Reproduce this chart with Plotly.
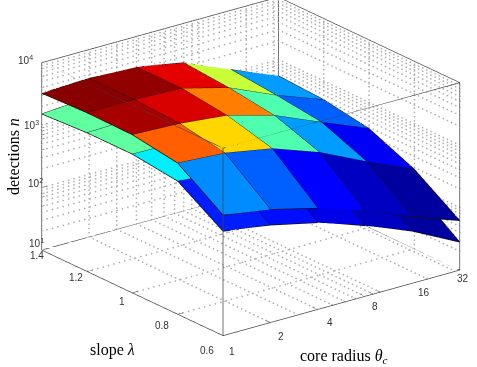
"""Two-sheet faceted surface of detections against core radius and slope."""

import numpy as np
import plotly.graph_objects as go

theta_ticks = [1, 2, 4, 8, 16, 32]
slope_rows = [1.4, 1.2, 1.0, 0.8, 0.6]
z_ticks = [10, 100, 1000, 10000]

# detections per vertex, one row per slope, one column per core radius
upper_n = [
    [3240, 3470, 3240, 2340, 1120, 550],
    [3470, 3470, 3240, 2040, 955, 500],
    [3390, 3160, 2630, 1620, 776, 380],
    [2630, 2340, 1700, 912, 398, 186],
    [851, 646, 417, 234, 115, 62],
]
lower_n = [
    [1510, 1700, 1600, 1150, 560, 275],
    [1660, 1750, 1620, 1000, 480, 250],
    [1660, 1600, 1300, 800, 390, 190],
    [1350, 1150, 850, 450, 200, 93],
    [468, 363, 245, 135, 68, 28],
]

# colour value per facet (jet, 0..1)
upper_c = [
    [0.99, 0.98, 0.898, 0.57, 0.28],
    [0.96, 0.91, 0.75, 0.453, 0.22],
    [0.78, 0.663, 0.453, 0.28, 0.115],
    [0.265, 0.22, 0.125, 0.06, 0.02],
]
lower_c = [
    [0.47, 0.47, 0.4, 0.3, 0.2],
    [0.47, 0.45, 0.4, 0.3, 0.2],
    [0.36, 0.35, 0.3, 0.2, 0.1],
    [0.155, 0.14, 0.10, 0.06, 0.02],
]

jet = [
    [0.0, "#00008f"], [0.125, "#0000ff"], [0.375, "#00ffff"],
    [0.625, "#ffff00"], [0.875, "#ff0000"], [1.0, "#800000"],
]

x_rng = (1, 32)
y_rng = (0.6, 1.4)
z_rng = (10, 10000)


def sheet(values, cells):
    xs, ys, zs, ii, jj, kk, cc = [], [], [], [], [], [], []
    ncol = len(theta_ticks)
    for r, row in enumerate(values):
        for c, val in enumerate(row):
            xs.append(theta_ticks[c])
            ys.append(slope_rows[r])
            zs.append(val)
    for r, row in enumerate(cells):
        for c, val in enumerate(row):
            a = r * ncol + c
            b, d, e = a + 1, a + ncol, a + ncol + 1
            ii += [a, a]
            jj += [b, e]
            kk += [e, d]
            cc += [val, val]
    return go.Mesh3d(
        x=xs, y=ys, z=zs, i=ii, j=jj, k=kk,
        intensity=cc, intensitymode="cell",
        colorscale=jet, cmin=0, cmax=1, showscale=False,
        flatshading=True,
        lighting=dict(ambient=1, diffuse=0, specular=0, fresnel=0),
        hoverinfo="skip",
    )


def edges(values):
    xs, ys, zs = [], [], []
    for r, row in enumerate(values):
        xs += theta_ticks + [None]
        ys += [slope_rows[r]] * len(row) + [None]
        zs += list(row) + [None]
    for c in range(len(theta_ticks)):
        xs += [theta_ticks[c]] * len(values) + [None]
        ys += slope_rows + [None]
        zs += [row[c] for row in values] + [None]
    return go.Scatter3d(
        x=xs, y=ys, z=zs, mode="lines",
        line=dict(color="#101010", width=1.5),
        showlegend=False, hoverinfo="skip",
    )


def segs(points, color, width):
    xs, ys, zs = [], [], []
    for a, b in points:
        xs += [a[0], b[0], None]
        ys += [a[1], b[1], None]
        zs += [a[2], b[2], None]
    return go.Scatter3d(
        x=xs, y=ys, z=zs, mode="lines",
        line=dict(color=color, width=width),
        showlegend=False, hoverinfo="skip",
    )


def dots(points, color, n=45):
    # gl dash patterns come out too long here, so the dotted grid is plain markers
    xs, ys, zs = [], [], []
    for a, b in points:
        f = np.linspace(0, 1, n)
        xs += list(np.exp(np.log(a[0]) + f * (np.log(b[0]) - np.log(a[0]))))
        ys += list(a[1] + f * (b[1] - a[1]))
        zs += list(np.exp(np.log(a[2]) + f * (np.log(b[2]) - np.log(a[2]))))
    return go.Scatter3d(
        x=xs, y=ys, z=zs, mode="markers",
        marker=dict(color=color, size=1, line=dict(width=0)),
        showlegend=False, hoverinfo="skip",
    )


x0, x1 = x_rng
y0, y1 = y_rng
z0, z1 = z_rng

theta_grid = [2, 3, 4, 5, 6, 7, 8, 9, 10, 20, 30]
z_grid = [m * 10 ** e for e in (1, 2, 3) for m in range(1, 10)][1:]
slope_grid = [0.8, 1.0, 1.2]

grid = []
for t in theta_grid:
    grid.append(((t, y0, z0), (t, y1, z0)))
    grid.append(((t, y1, z0), (t, y1, z1)))
for s in slope_grid:
    grid.append(((x0, s, z0), (x1, s, z0)))
    grid.append(((x1, s, z0), (x1, s, z1)))
for z in z_grid:
    grid.append(((x0, y1, z), (x1, y1, z)))
    grid.append(((x1, y0, z), (x1, y1, z)))

box = []
for z in (z0, z1):
    box += [
        ((x0, y0, z), (x1, y0, z)), ((x1, y0, z), (x1, y1, z)),
        ((x1, y1, z), (x0, y1, z)), ((x0, y1, z), (x0, y0, z)),
    ]
for x, y in ((x0, y0), (x1, y0), (x1, y1), (x0, y1)):
    box.append(((x, y, z0), (x, y, z1)))

# tick stubs point into the box, anything outside the ranges gets clipped
stubs = []
for t in theta_grid:
    d = 0.024 if t in theta_ticks else 0.014
    stubs.append(((t, y0, z0), (t, y0 + d, z0)))
for s in slope_grid:
    stubs.append(((x0, s, z0), (x0 * 1.08, s, z0)))
for z in z_grid:
    f = 1.08 if z in z_ticks else 1.04
    stubs.append(((x0, y1, z), (x0 * f, y1, z)))

fig = go.Figure()
fig.add_trace(sheet(upper_n, upper_c))
fig.add_trace(sheet(lower_n, lower_c))
fig.add_trace(edges(upper_n))
fig.add_trace(edges(lower_n))
fig.add_trace(dots(grid, "#b0b0b0"))
fig.add_trace(segs(box, "#444444", 1.5))
fig.add_trace(segs(stubs, "#333333", 1))

# tick labels as scene annotations, native ones land on top of each other at the corner
label_font = dict(family="Liberation Sans", size=10, color="#333333")
theta_nudge = [(-3, 7), (-1, 5), (0, 4), (-2, 1), (0, 0), (-9, -1)]
slope_nudge = [(11, -3), (5, -2), (6, 1), (0, 3), (0, 7)]
z_nudge = [(9, -4), (8, -2), (4, 3), (-2, 0)]

scene_labels = []
for t, (dx, dy) in zip(theta_ticks, theta_nudge):
    scene_labels.append(dict(x=np.log10(t), y=y0, z=np.log10(z0), text=str(t),
                             xshift=12 + dx, yshift=-9 - dy))
for s, (dx, dy) in zip(slope_rows, slope_nudge):
    scene_labels.append(dict(x=np.log10(x0), y=s, z=np.log10(z0), text=f"{s:g}",
                             xshift=-16 + dx, yshift=-8 - dy))
for i, (z, (dx, dy)) in enumerate(zip(z_ticks, z_nudge)):
    scene_labels.append(dict(x=np.log10(x0), y=y1, z=np.log10(z), text=f"10<sup>{i + 1}</sup>",
                             xshift=-14 + dx, yshift=3 - dy))
for lab in scene_labels:
    lab.update(showarrow=False, font=label_font)

axis = dict(
    showgrid=False, zeroline=False, showbackground=False,
    showline=True, linecolor="#444444", linewidth=1.5, mirror=True,
    showspikes=False, ticks="", showticklabels=False, title=dict(text=""),
)
center = np.array([-0.053, 0.0405, -0.100])
zoom = 1.625
eye = center + np.array([-0.567, -0.740, 0.3615]) * 2.2

fig.update_layout(
    width=477, height=367,
    margin=dict(l=0, r=0, t=0, b=0),
    paper_bgcolor="white",
    showlegend=False,
    scene=dict(
        domain=dict(x=[0, 1], y=[0, 1]),
        xaxis=dict(axis, type="log", range=[np.log10(x0), np.log10(x1)]),
        yaxis=dict(axis, range=list(y_rng)),
        zaxis=dict(axis, type="log", range=[np.log10(z0), np.log10(z1)]),
        aspectmode="manual",
        aspectratio=dict(x=zoom, y=zoom, z=0.674 * zoom),
        camera=dict(
            eye=dict(x=eye[0], y=eye[1], z=eye[2]),
            center=dict(x=center[0], y=center[1], z=center[2]),
            up=dict(x=0, y=0, z=1),
            projection=dict(type="orthographic"),
        ),
        annotations=scene_labels,
    ),
    annotations=[
        dict(text="detections <i>n</i>", x=13, y=157, textangle=-90),
        dict(text="slope <i>λ</i>", x=112, y=350, textangle=0),
        dict(text="core radius <i>θ<sub>c</sub></i>", x=344, y=356, textangle=0),
    ],
)
for ann in fig.layout.annotations:
    ann.update(
        xref="paper", yref="paper", showarrow=False,
        x=ann.x / 477, y=1 - ann.y / 367,
        xanchor="center", yanchor="middle",
        font=dict(family="Liberation Serif", size=16, color="black"),
    )

# the default body margin would push the chart 8px off the window
fig.write_html("out.html", config={"displayModeBar": False},
               post_script="document.body.style.margin='0';")
